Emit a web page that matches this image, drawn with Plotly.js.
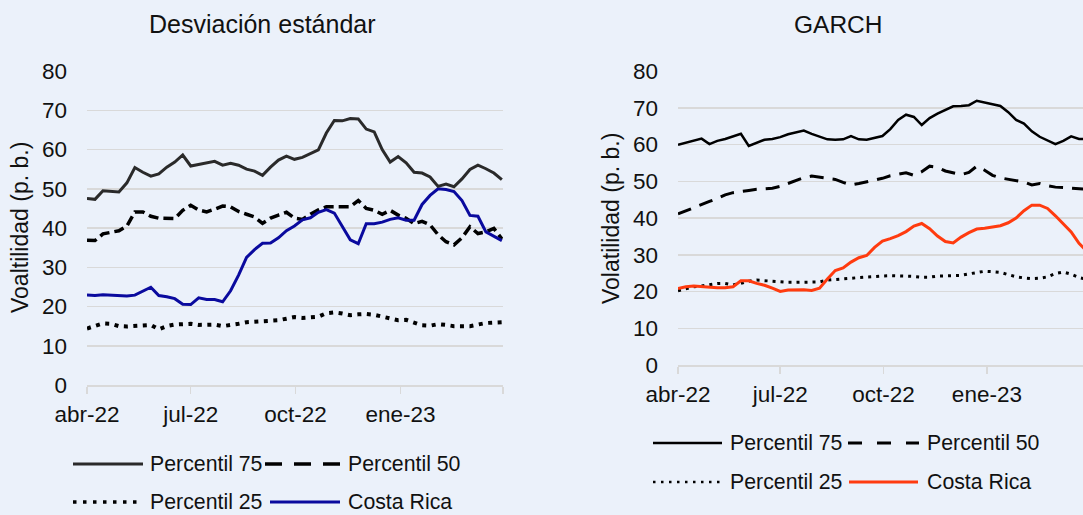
<!DOCTYPE html>
<html>
<head>
<meta charset="utf-8">
<script src="https://cdn.plot.ly/plotly-3.0.1.min.js"></script>
<style>
html,body{margin:0;padding:0;overflow:hidden;background:#ebf1fa;}
#chart{width:1095px;height:515px;}
</style>
</head>
<body>
<div id="chart"></div>
<script>
// ---------- data ----------
const dates = ["2022-04-01","2022-04-08","2022-04-15","2022-04-22","2022-04-29","2022-05-06","2022-05-13","2022-05-20","2022-05-27","2022-06-03","2022-06-10","2022-06-17","2022-06-24","2022-07-01","2022-07-08","2022-07-15","2022-07-22","2022-07-29","2022-08-05","2022-08-12","2022-08-19","2022-08-26","2022-09-02","2022-09-09","2022-09-16","2022-09-23","2022-09-30","2022-10-07","2022-10-14","2022-10-21","2022-10-28","2022-11-04","2022-11-11","2022-11-18","2022-11-25","2022-12-02","2022-12-09","2022-12-16","2022-12-23","2022-12-30","2023-01-06","2023-01-13","2023-01-20","2023-01-27","2023-02-03","2023-02-10","2023-02-17","2023-02-24","2023-03-03","2023-03-10","2023-03-17","2023-03-24","2023-03-31"];

const tickDates = ["2022-04-01","2022-07-01","2022-10-01","2023-01-01","2023-04-01"];
const tickLabels = ["abr-22","jul-22","oct-22","ene-23",""];

const seriesNames = ["Percentil 75","Percentil 50","Percentil 25","Costa Rica"];

// Desviación estándar
const sdP75 = [47.5,47.3,49.5,49.4,49.2,51.5,55.4,54.2,53.2,53.8,55.5,56.8,58.6,55.8,56.2,56.6,57.0,56.0,56.5,56.0,55.0,54.5,53.4,55.5,57.3,58.3,57.5,58.0,58.9,59.9,64.2,67.4,67.3,67.9,67.8,65.2,64.5,60.0,56.8,58.2,56.6,54.2,54.0,53.0,50.6,51.2,50.5,52.5,54.9,56.0,55.1,54.0,52.3];
const sdP50 = [36.9,36.8,38.5,38.9,39.3,40.5,44.1,44.1,43.0,42.5,42.4,42.4,44.5,45.8,44.6,44.1,44.8,45.6,45.4,44.2,43.5,42.8,41.2,42.5,43.3,44.0,42.5,42.2,43.5,44.6,45.4,45.5,45.4,45.4,47.0,45.0,44.5,43.5,44.5,43.3,42.5,41.1,41.7,40.8,38.3,36.5,35.7,37.5,40.3,38.6,39.0,39.9,37.2];
const sdP25 = [14.4,15.1,15.7,15.6,15.0,14.9,15.0,15.2,15.3,14.2,15.0,15.4,15.5,15.6,15.3,15.3,15.4,15.0,15.2,15.6,16.0,16.1,16.2,16.4,16.5,16.9,17.3,17.1,17.2,17.4,18.3,18.5,18.2,17.8,18.0,18.1,17.9,17.5,17.1,16.5,16.6,16.0,15.2,15.1,15.5,15.3,15.0,15.0,15.0,15.4,15.8,15.9,16.0];
const sdCR  = [22.9,22.8,23.0,22.9,22.9,22.7,22.9,24.0,24.9,22.8,22.5,22.0,20.6,20.5,22.2,21.8,21.8,21.2,24.0,28.0,32.5,34.5,36.1,36.2,37.5,39.3,40.5,42.1,42.6,44.0,44.7,43.8,40.5,37.0,36.0,41.1,41.1,41.5,42.2,42.6,42.0,42.0,46.0,48.3,50.0,49.8,49.3,47.0,43.2,43.0,39.0,38.0,36.8];

// GARCH
const gP75 = [59.9,60.4,61.0,61.6,60.1,61.0,61.5,62.2,62.9,59.6,60.4,61.3,61.5,62.0,62.8,63.4,63.8,62.9,62.1,61.4,61.3,61.4,62.3,61.4,61.3,61.7,62.3,64.2,66.7,68.1,67.5,65.3,67.2,68.4,69.5,70.4,70.5,70.7,71.9,71.4,71.0,70.5,68.8,66.7,65.7,63.6,62.1,61.0,60.1,61.0,62.2,61.5,61.5];
const gP50 = [41.1,42.0,42.8,43.7,44.5,45.3,46.3,46.9,47.3,47.5,47.8,48.0,48.1,48.6,49.4,50.3,51.0,51.4,51.1,50.8,50.5,49.7,49.0,49.4,49.8,50.2,50.8,51.5,51.9,52.3,51.6,52.6,54.1,53.8,52.8,52.4,51.8,52.4,54.1,53.0,51.6,50.9,50.5,50.2,49.8,49.0,49.4,48.8,48.4,48.3,48.1,47.9,47.8];
const gP25 = [20.2,20.8,21.3,21.5,21.9,22.2,22.2,21.8,22.2,22.8,23.1,22.9,22.8,22.6,22.5,22.5,22.5,22.5,22.6,23.1,23.2,23.4,23.6,23.8,24.0,24.1,24.2,24.3,24.3,24.3,24.1,23.9,23.9,24.2,24.3,24.4,24.4,24.8,25.1,25.5,25.4,25.2,24.6,24.0,23.7,23.5,23.6,24.0,24.9,25.3,24.7,23.8,23.3];
const gCR  = [20.8,21.3,21.5,21.3,21.0,21.0,21.0,21.3,22.9,22.9,22.2,21.7,20.9,20.0,20.4,20.5,20.5,20.3,20.9,23.4,25.7,26.4,28.0,29.2,29.8,32.0,33.7,34.4,35.2,36.3,37.8,38.5,37.1,35.1,33.6,33.2,34.8,36.0,37.0,37.2,37.6,37.9,38.7,40.0,42.0,43.5,43.5,42.6,40.6,38.3,36.2,33.1,31.0];

// ---------- styles ----------
const W = 1095, H = 515;
const BG = '#ebf1fa', GRID = '#d9d9d9';
const FONT = 'Liberation Sans, Arial, sans-serif';
const TXT = '#111111';
const px = v => v / W;
const py = v => 1 - v / H;

const leftStyles = [
  {color:'#2a2a2a', width:3, dash:'solid'},
  {color:'#000000', width:3.5, dash:'10px,5px'},
  {color:'#000000', width:4, dash:'4px,5.5px'},
  {color:'#0a0a9e', width:3, dash:'solid'}
];
const rightStyles = [
  {color:'#000000', width:2.5, dash:'solid'},
  {color:'#000000', width:3, dash:'14px,9px'},
  {color:'#000000', width:3, dash:'3px,5px'},
  {color:'#ff3b0f', width:3, dash:'solid'}
];

const leftData = [sdP75, sdP50, sdP25, sdCR];
const rightData = [gP75, gP50, gP25, gCR];

const traces = [];
[2,1,3,0].forEach(i => {
  traces.push({x:dates, y:leftData[i], type:'scatter', mode:'lines', name:seriesNames[i],
    xaxis:'x', yaxis:'y', line:leftStyles[i], showlegend:false, hoverinfo:'skip'});
});
[2,1,3,0].forEach(i => {
  traces.push({x:dates, y:rightData[i], type:'scatter', mode:'lines', name:seriesNames[i],
    xaxis:'x2', yaxis:'y2', line:rightStyles[i], showlegend:false, hoverinfo:'skip'});
});

function xAx(d0, d1, anchor) {
  return {domain:[px(d0), px(d1)], anchor:anchor, type:'date',
    range:['2022-04-01','2023-04-01'], tickmode:'array', tickvals:tickDates, ticktext:tickLabels,
    ticks:'outside', ticklen:7, tickwidth:1.5, tickcolor:GRID, showline:true, linecolor:GRID, linewidth:1.5,
    showgrid:false, zeroline:false, ticklabelstandoff:1, tickfont:{size:22.5, color:TXT, family:FONT}, fixedrange:true};
}
function yAx(top, bottom, anchor) {
  return {domain:[py(bottom), py(top)], anchor:anchor, range:[0,80], tickmode:'linear', tick0:0, dtick:10,
    showgrid:true, gridcolor:GRID, gridwidth:1.5, showline:false, zeroline:false, ticks:'',
    ticklabelstandoff:19, tickfont:{size:22.5, color:TXT, family:FONT}, fixedrange:true};
}

const annotations = [];
const shapes = [];
function txt(t, x, y, opts) {
  annotations.push(Object.assign({text:t, x:px(x), y:py(y), xref:'paper', yref:'paper', showarrow:false,
    xanchor:'center', yanchor:'middle', font:{size:23, color:TXT, family:FONT}}, opts||{}));
}
txt('Desviación estándar', 262, 24, {font:{size:25, color:TXT, family:FONT}});
txt('GARCH', 838, 24, {font:{size:24.5, color:TXT, family:FONT}});
txt('Voaltilidad (p. b.)', 20, 228, {textangle:-90});
txt('Volatilidad (p. b.)', 611, 219, {textangle:-90});

// legends
function legItem(style, x0, x1, y, label, tx) {
  shapes.push({type:'line', xref:'paper', yref:'paper', x0:px(x0), x1:px(x1), y0:py(y), y1:py(y),
    line:{color:style.color, width:style.width, dash:style.dash}});
  txt(label, tx, y, {xanchor:'left', font:{size:21.3, color:TXT, family:FONT}});
}
const legLeftStyles = [
  leftStyles[0],
  {color:'#000', width:3.5, dash:'17px,12px'},
  {color:'#000', width:3.5, dash:'3.5px,6.5px'},
  leftStyles[3]
];
legItem(legLeftStyles[0], 73, 143, 464, seriesNames[0], 148);
legItem(legLeftStyles[1], 265, 340, 464, seriesNames[1], 346);
legItem(legLeftStyles[2], 73, 143, 502, seriesNames[2], 148);
legItem(legLeftStyles[3], 270, 340, 502, seriesNames[3], 346);

const legRightStyles = [
  rightStyles[0],
  {color:'#000', width:3, dash:'14px,15px'},
  {color:'#000', width:2.5, dash:'2.5px,5.5px'},
  rightStyles[3]
];
legItem(legRightStyles[0], 653, 722, 443, seriesNames[0], 728);
legItem(legRightStyles[1], 848, 919, 443, seriesNames[1], 925);
legItem(legRightStyles[2], 653, 722, 482, seriesNames[2], 728);
legItem(legRightStyles[3], 849, 918, 482, seriesNames[3], 925);

const layout = {
  width:W, height:H, margin:{l:0,r:0,t:0,b:0},
  paper_bgcolor:BG, plot_bgcolor:BG,
  font:{family:FONT, color:TXT},
  showlegend:false,
  xaxis: xAx(87, 503, 'y'),
  yaxis: yAx(71, 385, 'x'),
  xaxis2: xAx(678, 1088, 'y2'),
  yaxis2: yAx(71, 365, 'x2'),
  annotations: annotations,
  shapes: shapes
};

Plotly.newPlot('chart', traces, layout, {displayModeBar:false, staticPlot:true});
</script>
</body>
</html>
